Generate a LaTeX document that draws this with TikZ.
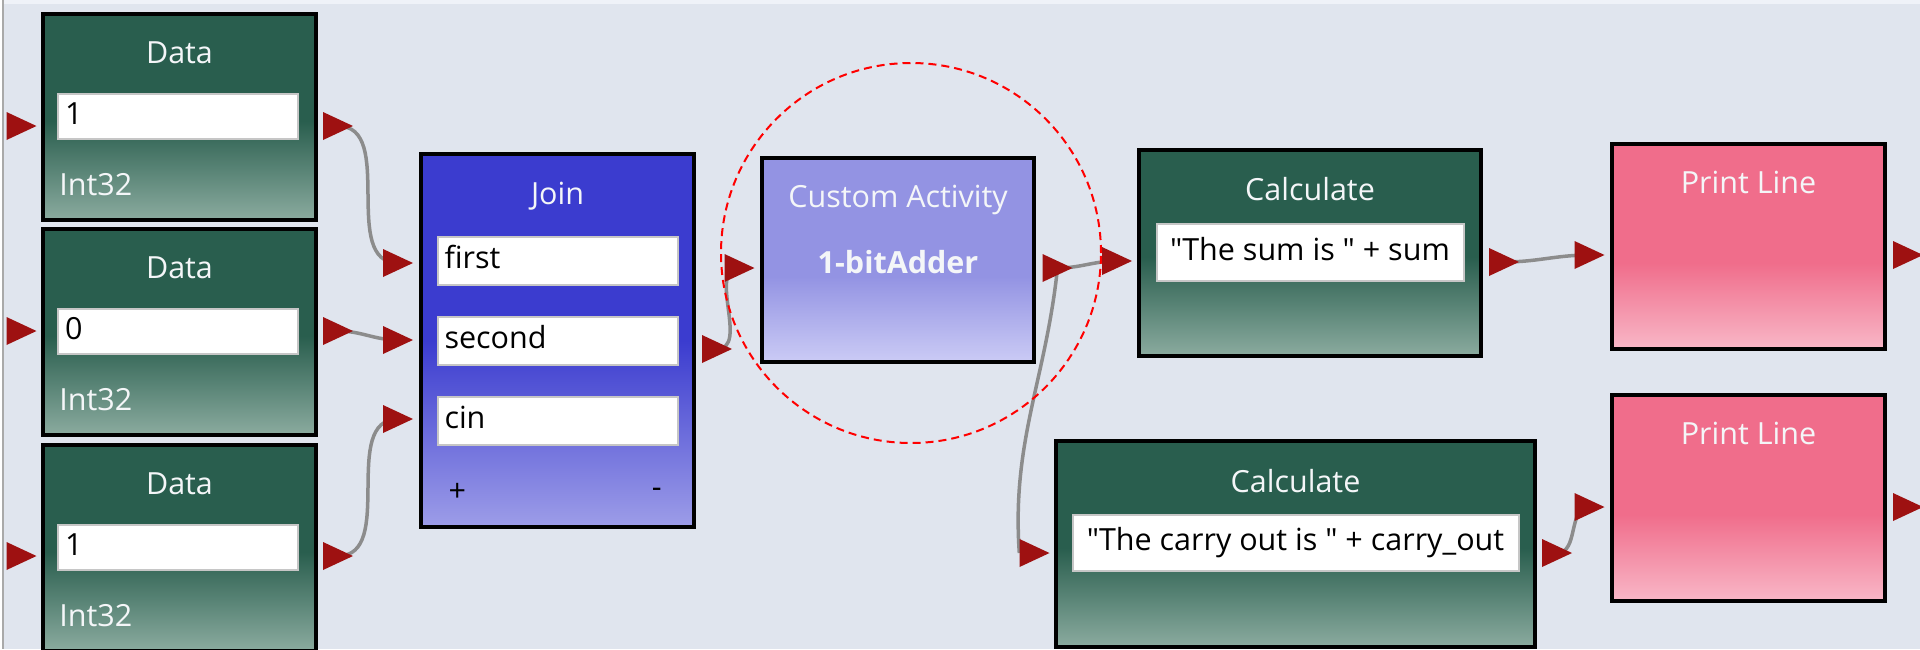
\documentclass[tikz,border=0pt]{standalone}
\usepackage{fontspec}
\setmainfont{Open Sans}
\newcommand\straightquote{\XeTeXglyph\XeTeXcharglyph"0022\relax}

\definecolor{canvas}{HTML}{E0E5EE}
\definecolor{canvastop}{HTML}{EFF2F8}
\definecolor{edgegrey}{HTML}{A9A9A9}
\definecolor{portred}{HTML}{9E1111}
\definecolor{wiregrey}{HTML}{8C8C8C}
\definecolor{fieldline}{HTML}{C6C6C6}
\definecolor{inktitle}{HTML}{F4F6F8}
\definecolor{greenhi}{HTML}{295E4E}
\definecolor{greenlo}{HTML}{8BAB9F}
\definecolor{joinhi}{HTML}{3B3CCF}
\definecolor{joinlo}{HTML}{9D9DE8}
\definecolor{customhi}{HTML}{9393E3}
\definecolor{customlo}{HTML}{CBCBF5}
\definecolor{pinkhi}{HTML}{F06D8B}
\definecolor{pinklo}{HTML}{F8B7C7}

\pgfdeclareverticalshading{greenshade}{100bp}{color(0bp)=(greenlo); color(25bp)=(greenlo); color(49bp)=(greenhi); color(100bp)=(greenhi)}
\pgfdeclareverticalshading{joinshade}{100bp}{color(0bp)=(joinlo); color(25bp)=(joinlo); color(50bp)=(joinhi); color(100bp)=(joinhi)}
\pgfdeclareverticalshading{customshade}{100bp}{color(0bp)=(customlo); color(25bp)=(customlo); color(46bp)=(customhi); color(100bp)=(customhi)}
\pgfdeclareverticalshading{pinkshade}{100bp}{color(0bp)=(pinklo); color(25bp)=(pinklo); color(46bp)=(pinkhi); color(100bp)=(pinkhi)}

\pgfdeclarelayer{canvaslayer}
\pgfdeclarelayer{wirelayer}
\pgfsetlayers{canvaslayer,wirelayer,main}

\begin{document}
\begin{tikzpicture}[x=1pt,y=-1pt]
  % Base settings
  \tikzset{
    block/.style={draw=black, line width=3.5pt, inner sep=0pt, shade},
    title/.style={anchor=base, inner sep=0pt, text=inktitle, font=\fontsize{30.5}{36}\selectfont},
    note/.style={inner sep=0pt, font=\fontsize{30.5}{36}\selectfont},
    field/.style={fill=white, draw=fieldline, line width=2pt, inner xsep=7pt, inner ysep=0pt,
      text height=22pt, text depth=7pt, font=\fontsize{30.5}{36}\selectfont},
    port/.style={inner sep=0pt, minimum width=30pt, minimum height=28pt,
      path picture={\fill[portred] (path picture bounding box.south west)
        -- (path picture bounding box.east) -- (path picture bounding box.north west) -- cycle;}},
    wire/.style={draw=wiregrey, line width=3.5pt}
  }

  \useasboundingbox (0,0) rectangle (1920,649);
  \begin{pgfonlayer}{canvaslayer}
    \fill[canvas] (0,0) rectangle (1920,649);
    \fill[canvastop] (0,0) rectangle (1920,4);
    \fill[white] (0,0) rectangle (2,649);
    \draw[edgegrey, line width=2pt] (3,0) -- (3,649);
  \end{pgfonlayer}

  % --- Data blocks ---
  \node[block, shading=greenshade, minimum width=273pt, minimum height=206pt] (data1) at (179.5,117) {};
  \node[block, shading=greenshade, minimum width=273pt, minimum height=206pt] (data2) at (179.5,332) {};
  \node[block, shading=greenshade, minimum width=273pt, minimum height=206pt] (data3) at (179.5,548) {};
  \node[title] at ([yshift=-51pt]data1.north) {Data};
  \node[title] at ([yshift=-51pt]data2.north) {Data};
  \node[title] at ([yshift=-51pt]data3.north) {Data};
  \node[field, align=left, text width=226pt, minimum height=45pt] (val1) at ([xshift=-1.5pt,yshift=-104.5pt]data1.north) {1};
  \node[field, align=left, text width=226pt, minimum height=45pt] (val2) at ([xshift=-1.5pt,yshift=-104.5pt]data2.north) {0};
  \node[field, align=left, text width=226pt, minimum height=45pt] (val3) at ([xshift=-1.5pt,yshift=-104.5pt]data3.north) {1};
  \node[title, anchor=base west] at ([xshift=18pt,yshift=-183pt]data1.north west) {Int32};
  \node[title, anchor=base west] at ([xshift=18pt,yshift=-183pt]data2.north west) {Int32};
  \node[title, anchor=base west] at ([xshift=18pt,yshift=-183pt]data3.north west) {Int32};

  % --- Join ---
  \node[block, shading=joinshade, minimum width=273pt, minimum height=373pt] (join) at (557.5,340.5) {};
  \node[title] at ([yshift=-52pt]join.north) {Join};
  \node[field, align=left, text width=226pt, minimum height=48pt] (first) at ([yshift=-109pt]join.north) {first};
  \node[field, align=left, text width=226pt, minimum height=48pt] (second) at ([yshift=-189pt]join.north) {second};
  \node[field, align=left, text width=226pt, minimum height=48pt] (cin) at ([yshift=-269pt]join.north) {cin};
  \node[note] (plus) at ([xshift=38pt,yshift=-340pt]join.north west) {+};
  \node[note] (minus) at ([xshift=-39pt,yshift=-341pt]join.north east) {-};

  % --- Custom activity ---
  \node[block, shading=customshade, minimum width=272pt, minimum height=204pt] (adder) at (898,260) {};
  \node[title] at ([yshift=-51pt]adder.north) {Custom Activity};
  \node[title, font=\fontsize{30.5}{36}\selectfont\bfseries] at ([yshift=-117pt]adder.north) {1-bitAdder};

  % --- Calculate ---
  \node[block, shading=greenshade, minimum width=342pt, minimum height=206pt] (calc1) at (1310,253) {};
  \node[block, shading=greenshade, minimum width=479pt, minimum height=206pt] (calc2) at (1295.5,544) {};
  \node[title] at ([yshift=-52pt]calc1.north) {Calculate};
  \node[title] at ([yshift=-53pt]calc2.north) {Calculate};
  \node[field, minimum width=307pt, minimum height=57pt] (sumexpr) at ([yshift=-104.5pt]calc1.north)
    {\straightquote The sum is \straightquote{} + sum};
  \node[field, minimum width=446pt, minimum height=56pt] (carryexpr) at ([yshift=-104pt]calc2.north)
    {\straightquote The carry out is \straightquote{} + carry\_out};

  % --- Print line ---
  \node[block, shading=pinkshade, minimum width=273pt, minimum height=205pt] (print1) at (1748.5,246.5) {};
  \node[block, shading=pinkshade, minimum width=273pt, minimum height=206pt] (print2) at (1748.5,498) {};
  \node[title] at ([yshift=-51pt]print1.north) {Print Line};
  \node[title] at ([yshift=-51pt]print2.north) {Print Line};

  % --- Ports ---
  \node[port] (d1i) at (21.5,126) {};
  \node[port] (d2i) at (21.5,331) {};
  \node[port] (d3i) at (21.5,556) {};
  \node[port] (d1o) at (338,126) {};
  \node[port] (d2o) at (338,331) {};
  \node[port] (d3o) at (338,556) {};
  \node[port] (j1i) at (398,263) {};
  \node[port] (j2i) at (398,340) {};
  \node[port] (j3i) at (398,419) {};
  \node[port] (jo) at (717,349) {};
  \node[port] (ai) at (739.5,268) {};
  \node[port] (ao) at (1057.5,268) {};
  \node[port] (c1i) at (1117,261) {};
  \node[port] (c1o) at (1504,262) {};
  \node[port] (c2i) at (1034.5,553) {};
  \node[port] (c2o) at (1557,553) {};
  \node[port] (p1i) at (1589.5,255) {};
  \node[port] (p1o) at (1908,255) {};
  \node[port] (p2i) at (1589.5,507) {};
  \node[port] (p2o) at (1908,507) {};

  % --- Wires ---
  \begin{pgfonlayer}{wirelayer}
    \draw[wire] (d1o.center) to[out=0,in=180] (j1i.center);
    \draw[wire] (d2o.center) to[out=0,in=180] (j2i.center);
    \draw[wire] (d3o.center) to[out=0,in=180] (j3i.center);
    \draw[wire] (jo.center) to[out=0,in=180] (ai.center);
    \draw[wire] (ao.center) to[out=0,in=180] (c1i.center);
    \draw[wire] (ao.center) to[out=-96,in=94] (c2i.west);
    \draw[wire] (c1o.center) to[out=0,in=180] (p1i.center);
    \draw[wire] (c2o.center) to[out=0,in=180] (p2i.center);
  \end{pgfonlayer}

  % --- Highlight ---
  \node[draw=red, dashed, dash pattern=on 8pt off 5pt, line width=2pt, circle, minimum size=380pt] (focus) at (911,253) {};

\end{tikzpicture}
\end{document}
